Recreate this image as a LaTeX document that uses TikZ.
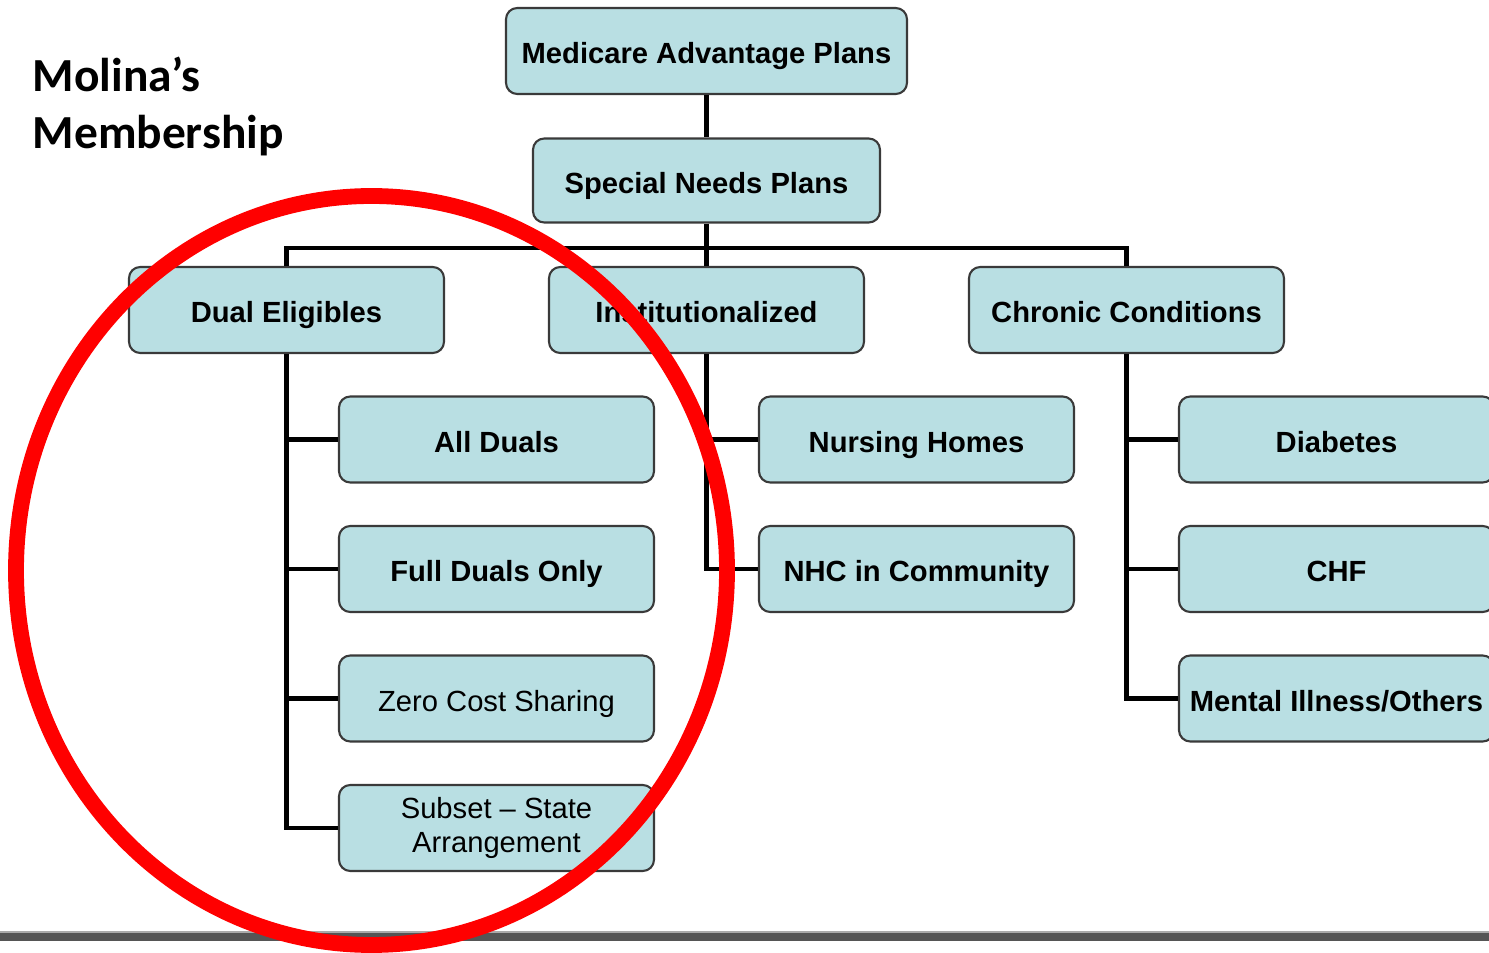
\documentclass[tikz,border=0pt]{standalone}
\usepackage{fontspec}
\setmainfont{Liberation Sans}
\newfontfamily\titlefont{Carlito}
\usepackage{xcolor}
\usepackage{tikz}
\usetikzlibrary{shapes,arrows,positioning,calc}

\definecolor{boxfill}{HTML}{B9DFE3}
\definecolor{boxline}{HTML}{3A3A3A}
\definecolor{bargray}{HTML}{555555}

\tikzset{
  boxbase/.style={draw=boxline, fill=boxfill, line width=0.6pt, rounded corners=3.2pt,
    minimum width=3.15cm, minimum height=0.86cm, inner sep=2pt, align=center,
    font=\fontsize{8.3}{9.7}\selectfont},
  planbox/.style={boxbase, text height=1.63ex, text depth=0.25ex,
    font=\fontsize{8.3}{9.7}\selectfont\bfseries},
  thinbox/.style={planbox, font=\fontsize{8.3}{9.7}\selectfont},
  twolinebox/.style={boxbase},
  conn/.style={draw=black, line width=1.2pt}
}

\begin{document}
\begin{tikzpicture}[node distance=1.295cm]
    \useasboundingbox (0,0) rectangle (14.89,-9.53);

    \node (title) [anchor=north west, align=left, inner sep=0pt, font=\titlefont\fontsize{13.5}{16.2}\selectfont\bfseries] at (0.32,-0.56) {Molina’s\\Membership};

    \node (ma) [planbox, minimum width=4.01cm] at (7.065,-0.51) {Medicare Advantage Plans};
    \node (snp) [planbox, minimum width=3.47cm, minimum height=0.84cm, below of=ma] {Special Needs Plans};

    \node (dual) [planbox, below of=snp, xshift=-4.2cm] {Dual Eligibles};
    \node (inst) [planbox, below of=snp] {Institutionalized};
    \node (chron) [planbox, below of=snp, xshift=4.2cm] {Chronic Conditions};

    \node (alld) [planbox, below of=dual, xshift=2.1cm] {All Duals};
    \node (fdo) [planbox, below of=alld] {Full Duals Only};
    \node (zcs) [thinbox, below of=fdo] {Zero Cost Sharing};
    \node (sub) [twolinebox, below of=zcs] {Subset -- State\\Arrangement};

    \node (nh) [planbox, below of=inst, xshift=2.1cm] {Nursing Homes};
    \node (nhc) [planbox, below of=nh] {NHC in Community};

    \node (diab) [planbox, below of=chron, xshift=2.1cm] {Diabetes};
    \node (chf) [planbox, below of=diab] {CHF};
    \node (mio) [planbox, below of=chf] {Mental Illness/Others};

    % tree lines
    \draw[conn] (ma) -- (snp);
    \draw[conn] (snp) -- (inst);
    \draw[conn] (dual.north) -- ++(0,0.18) -| (chron.north);
    \foreach \c in {alld,fdo,zcs,sub} \draw[conn] (dual.south) |- (\c.west);
    \foreach \c in {nh,nhc} \draw[conn] (inst.south) |- (\c.west);
    \foreach \c in {diab,chf,mio} \draw[conn] (chron.south) |- (\c.west);

    % bottom rule
    \fill[bargray!50] (0,-9.31) rectangle (14.89,-9.33);
    \fill[bargray] (0,-9.33) rectangle (14.89,-9.41);

    % red circle
    \draw[red, line width=4.5pt] (3.715,-5.705) ellipse (3.555cm and 3.745cm);
\end{tikzpicture}
\end{document}
